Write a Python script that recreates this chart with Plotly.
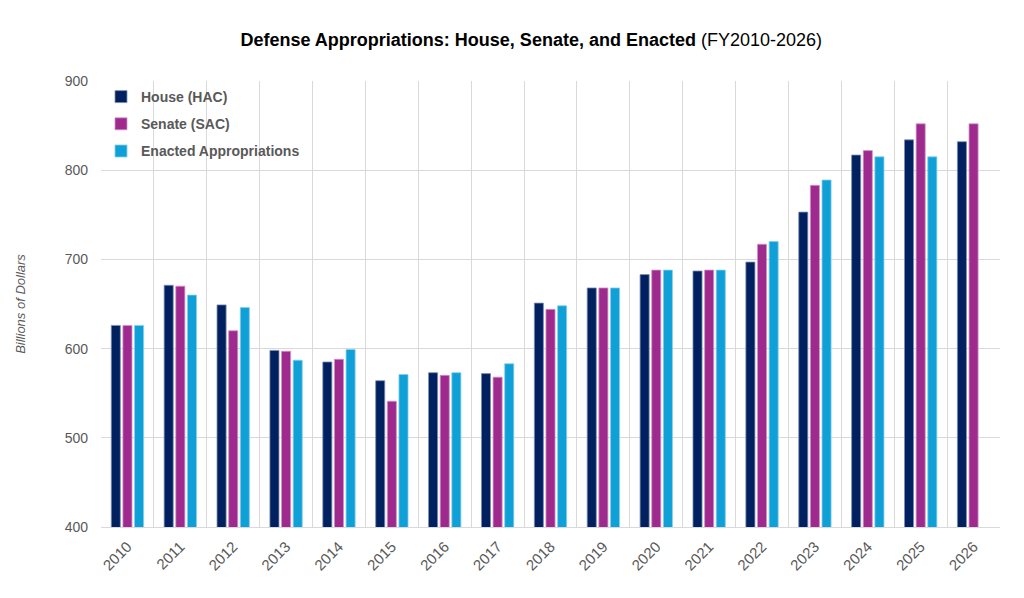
"""
Defense appropriations by chamber, FY2010-2026
"""

import plotly.graph_objects as go

# Fiscal years on the category axis
years = [str(y) for y in range(2010, 2027)]

# Billions of dollars
house = [626, 671, 649, 598, 585, 564, 573, 572, 651, 668, 683, 687, 697, 753, 817, 834, 832]
senate = [626, 670, 620, 597, 588, 541, 570, 568, 644, 668, 688, 688, 717, 783, 822, 852, 852]
enacted = [626, 660, 646, 587, 599, 571, 573, 583, 648, 668, 688, 688, 720, 789, 815, 815, None]

series_names = ["House (HAC)", "Senate (SAC)", "Enacted Appropriations"]
series_colors = ["#002060", "#9E2A8E", "#10A0D8"]
outline_colors = ["#7F8FB0", "#CF94C6", "#87CFEB"]

fig = go.Figure()

# One bar trace per chamber, each in its own legend group so entries get spaced
for name, values, color, edge in zip(series_names, [house, senate, enacted],
                                     series_colors, outline_colors):
    fig.add_trace(go.Bar(
        x=years,
        y=values,
        name=name,
        legendgroup=name,
        marker=dict(color=color, line=dict(color=edge, width=0.8)),
    ))

# page body adds an 8px offset, so margins are shifted to compensate
fig.update_layout(
    width=1024,
    height=598,
    barmode="group",
    bargap=0.34,
    bargroupgap=0.22,
    plot_bgcolor="white",
    paper_bgcolor="white",
    font=dict(family="Liberation Sans, Arial", color="#595959"),
    margin=dict(l=90, r=32, t=73, b=79),
    title=dict(
        text="<b>Defense Appropriations: House, Senate, and Enacted</b> (FY2010-2026)",
        x=0.511,
        xanchor="center",
        y=1 - 32 / 598,
        yanchor="middle",
        font=dict(size=18, color="#000000"),
    ),
    legend=dict(
        x=0.0,
        y=1.0,
        xanchor="left",
        yanchor="top",
        bgcolor="rgba(0,0,0,0)",
        tracegroupgap=6,
        font=dict(size=14, color="#595959", weight="bold"),
    ),
)

fig.update_xaxes(
    type="category",
    tickson="boundaries",
    showgrid=True,
    gridcolor="#D9D9D9",
    gridwidth=1,
    showline=True,
    linecolor="#D9D9D9",
    ticks="",
    tickangle=-45,
    ticklabelstandoff=4,
    tickfont=dict(size=15, color="#595959"),
)

fig.update_yaxes(
    range=[400, 900],
    dtick=100,
    showgrid=True,
    gridcolor="#D9D9D9",
    gridwidth=1,
    zeroline=False,
    showline=False,
    ticks="",
    ticklabelstandoff=12,
    tickfont=dict(size=14, color="#595959"),
    title=dict(
        text="<i>Billions of Dollars</i>",
        font=dict(size=13, color="#595959"),
        standoff=36,
    ),
)

fig.write_html("out.html")
